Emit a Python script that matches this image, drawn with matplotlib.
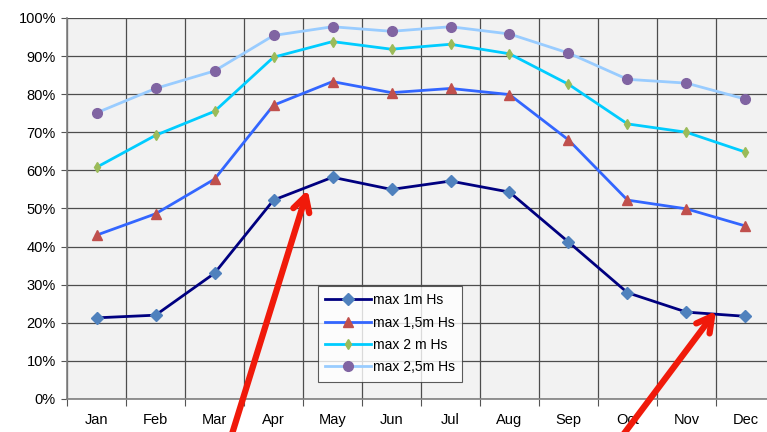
import matplotlib
matplotlib.use("Agg")
import matplotlib.pyplot as plt
import numpy as np

plt.rcParams['font.family'] = ['Liberation Sans', 'DejaVu Sans']

months = ['Jan', 'Feb', 'Mar', 'Apr', 'May', 'Jun', 'Jul', 'Aug', 'Sep', 'Oct', 'Nov', 'Dec']
max_1m = [21.3, 22.0, 33.0, 52.2, 58.2, 55.0, 57.2, 54.3, 41.2, 27.9, 22.8, 21.7]
max_15m = [43.0, 48.6, 57.7, 77.1, 83.3, 80.4, 81.5, 79.9, 68.0, 52.2, 49.9, 45.4]
max_2m = [60.8, 69.2, 75.5, 89.7, 93.8, 91.8, 93.1, 90.6, 82.6, 72.2, 70.0, 64.8]
max_25m = [75.1, 81.5, 86.1, 95.4, 97.7, 96.5, 97.7, 95.8, 90.8, 83.9, 82.9, 78.7]

series = [
    ('max 1m Hs', max_1m, '#000080', '#4F81BD', 'D', 6.5),
    ('max 1,5m Hs', max_15m, '#3366FF', '#C0504D', '^', 6.5),
    ('max 2 m Hs', max_2m, '#00CCFF', '#9BBB59', 'd', 5.5),
    ('max 2,5m Hs', max_25m, '#99CCFF', '#8064A2', 'o', 7),
]

fig = plt.figure(figsize=(7.67, 4.32), dpi=100)
ax = fig.add_axes([0.0874, 0.0764, 0.923, 0.882])
ax.set_facecolor('#F2F2F2')

x = np.arange(len(months))
for label, vals, lc, mc, mk, ms in series:
    ax.plot(x, vals, color=lc, lw=2.0, marker=mk, ms=ms,
            markerfacecolor=mc, markeredgecolor=mc, label=label, zorder=3)

ax.set_xlim(-0.5, 11.5)
ax.set_ylim(0, 100)
ax.set_yticks(np.arange(0, 101, 10))
ax.set_yticklabels([f'{v}%' for v in range(0, 101, 10)], fontsize=10.5)

# month labels on minor ticks, boundaries on major ticks
ax.set_xticks(np.arange(-0.5, 12, 1))
ax.set_xticklabels([])
ax.set_xticks(x, minor=True)
ax.set_xticklabels(months, minor=True, fontsize=10.5)
ax.tick_params(axis='x', which='minor', length=0, pad=10)
ax.tick_params(axis='x', which='major', length=5, color='#555555')
ax.tick_params(axis='y', length=4, color='#555555', pad=4)

ax.grid(True, which='major', color='#4d4d4d', lw=0.9)
ax.set_axisbelow(True)
for s in ['top', 'right']:
    ax.spines[s].set_visible(False)
for s in ['left', 'bottom']:
    ax.spines[s].set_color('#808080')
    ax.spines[s].set_linewidth(1.2)

leg = ax.legend(loc='lower left', bbox_to_anchor=(0.354, 0.045), fontsize=10,
                frameon=True, fancybox=False, handlelength=3.3,
                handletextpad=0.1, borderpad=0.55, labelspacing=0.6,
                borderaxespad=0)
leg.get_frame().set_edgecolor('#333333')
leg.get_frame().set_facecolor('white')
leg.get_frame().set_linewidth(0.8)
leg.set_zorder(5)

# red arrows
arrow_kw = dict(arrowstyle='->,head_length=1.1,head_width=0.6', color='#F01A0A',
                lw=4.5, shrinkA=0, shrinkB=0)
ax.annotate('', xy=(3.58, 54.9), xytext=(2.28, -10), annotation_clip=False,
            arrowprops=arrow_kw, zorder=6)
ax.annotate('', xy=(10.5, 23.1), xytext=(8.8, -12), annotation_clip=False,
            arrowprops=arrow_kw, zorder=6)

fig.savefig('out.png', dpi=100, facecolor='white')
